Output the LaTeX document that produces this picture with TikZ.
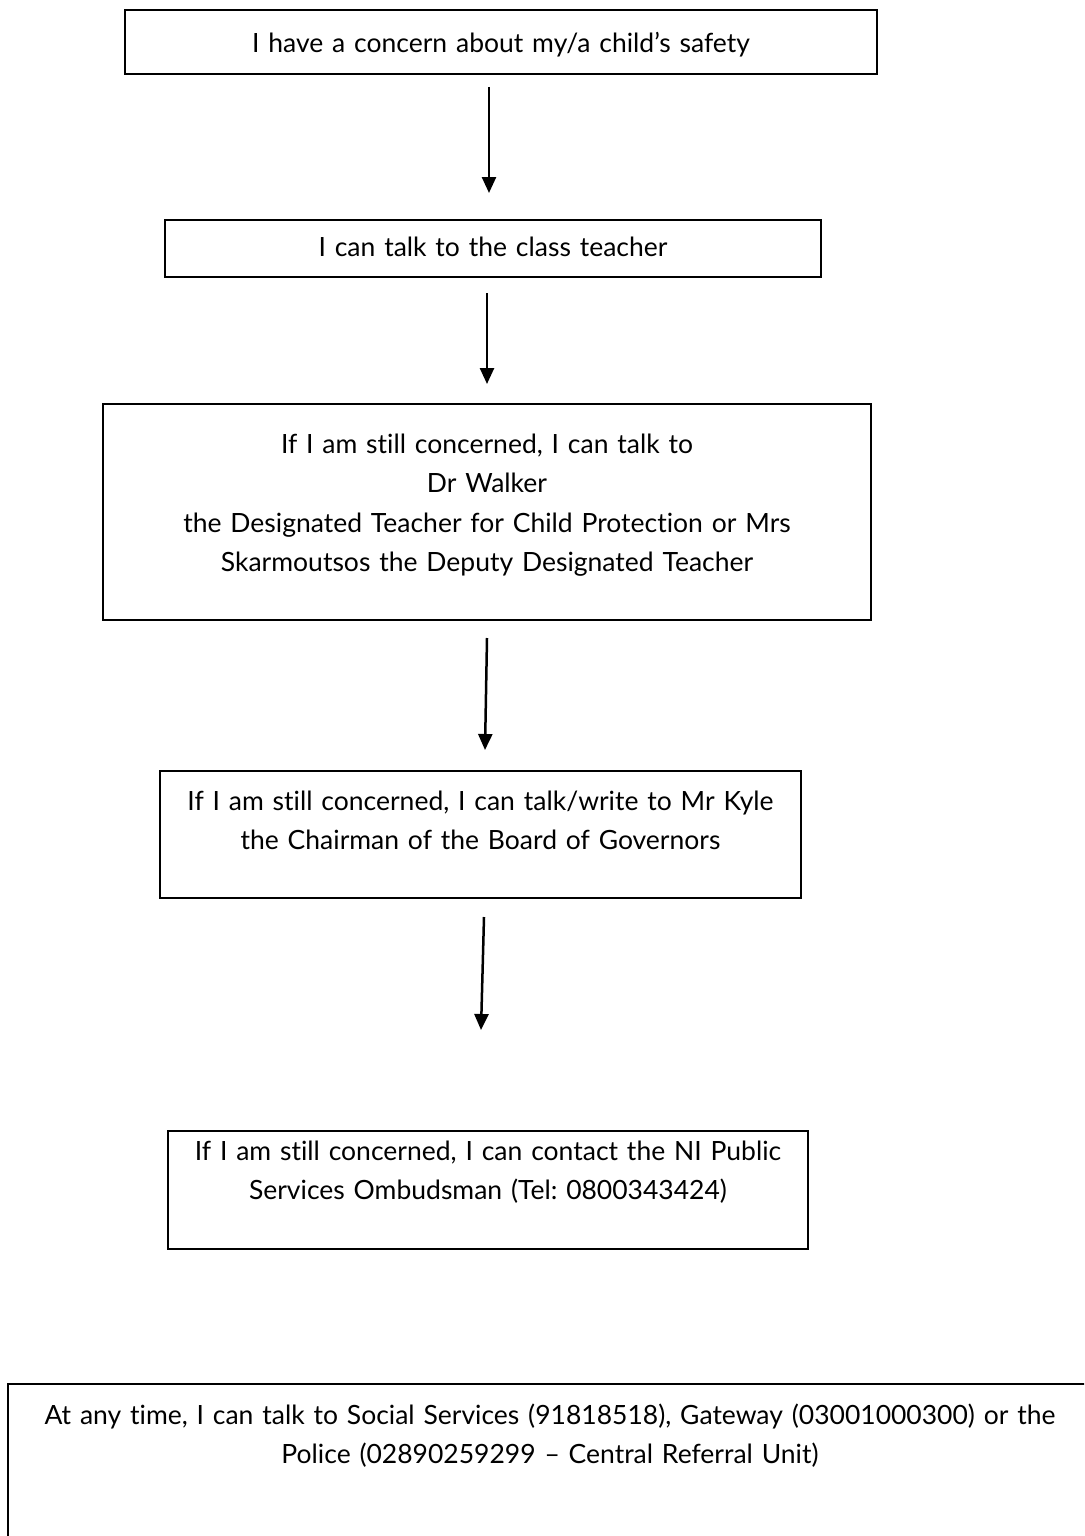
\documentclass[tikz,border=0pt]{standalone}
\usepackage{fontspec}
\setmainfont{Lato}[Ligatures={NoCommon,NoContextual}]
\frenchspacing
\usetikzlibrary{arrows.meta}

\begin{document}
\begin{tikzpicture}[x=1pt, y=-1pt,
  box/.style={draw, line width=2pt, anchor=north, align=center, inner sep=0pt,
    font=\fontsize{26.5}{39.5}\selectfont},
  flow/.style={line width=2.5pt, -{Triangle[length=16pt,width=14pt]}}]
\useasboundingbox (0,0) rectangle (1084,1536);
\clip (0,0) rectangle (1084,1536);

% Boxes
\node[box, text width=752pt, text height=43pt, text depth=21pt] (concern) at (501,9)
  {I have a concern about my/a child’s safety};
\node[box, text width=656pt, text height=36pt, text depth=21pt] (teacher) at (493,219)
  {I can talk to the class teacher};
\node[box, text width=768pt, text height=49pt, text depth=167pt] (designated) at (487,403)
  {If I am still concerned, I can talk to\\Dr Walker\\the Designated Teacher for Child Protection or Mrs\\Skarmoutsos the Deputy Designated Teacher};
\node[box, text width=641pt, text height=39pt, text depth=88pt] (governors) at (480.5,770)
  {If I am still concerned, I can talk/write to Mr Kyle\\the Chairman of the Board of Governors};
\node[box, text width=640pt, text height=29pt, text depth=89pt] (ombudsman) at (488,1130)
  {If I am still concerned, I can contact the NI Public\\Services Ombudsman (Tel: 0800343424)};
\node[box, text width=1084pt, text height=40pt, text depth=177pt] (anytime) at (550,1383)
  {At any time, I can talk to Social Services (91818518), Gateway (03001000300) or the\\Police (02890259299 – Central Referral Unit)};

% Arrows
\draw[flow] ([xshift=-12pt,yshift=-12pt]concern.south) -- ([xshift=-4pt,yshift=26pt]teacher.north);
\draw[flow] ([xshift=-6pt,yshift=-15pt]teacher.south) -- ([yshift=19pt]designated.north);
\draw[flow] ([yshift=-17pt]designated.south) -- ([xshift=4.5pt,yshift=20pt]governors.north);
\draw[flow] ([xshift=3.5pt,yshift=-18pt]governors.south) -- ([xshift=-7pt,yshift=100pt]ombudsman.north);
\end{tikzpicture}
\end{document}
